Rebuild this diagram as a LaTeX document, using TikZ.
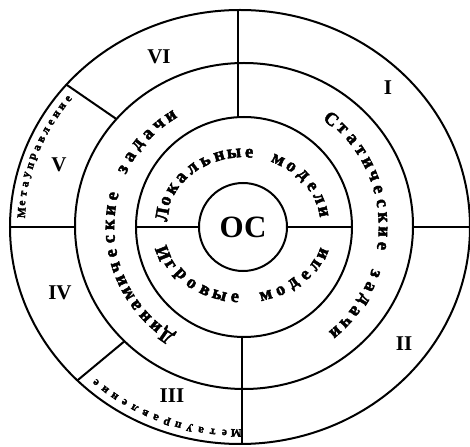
\documentclass[tikz,border=0pt]{standalone}
\usepackage{fontspec}
\setmainfont{Liberation Serif}
\newfontfamily\heavyfont[BoldFeatures={FakeBold=2.5}]{Liberation Serif}
\usepackage{tikz}
\usetikzlibrary{calc}
\tikzset{
  ring/.style={draw, line width=2pt},
  div/.style={line width=2pt},
  roman/.style={font=\fontsize{21}{21}\selectfont\bfseries, inner sep=1pt},
  core/.style={circle, draw, line width=2pt, minimum size=88pt, inner sep=0pt,
               font=\fontsize{31}{31}\selectfont\bfseries},
  letter/.style={inner sep=0pt, font=\heavyfont\fontsize{18.5}{18.5}\selectfont\bfseries},
  tinyletter/.style={inner sep=0pt, font=\heavyfont\fontsize{11.5}{11.5}\selectfont\bfseries},
}
% #1 style, #2 name, #3 centre, #4 first angle, #5 step, #6 turn, #7 radii, #8 letters
\newcommand\ringtext[8]{%
  \foreach \ch [count=\k] in {#8} {%
    \pgfmathsetmacro\ang{#4+#5*(\k-1)}%
    \node[#1, rotate=\ang#6] (#2-\k) at ($(#3)+(\ang:#7)$) {\ch};}}
\begin{document}
\begin{tikzpicture}[x=1pt, y=1pt]
    \useasboundingbox (-243,-219) rectangle (227,227);
    \coordinate (co) at (-3,0);
    \coordinate (cm) at (1,1);
    \coordinate (ci) at (1,0);
    \draw[ring] (co) ellipse [x radius=230, y radius=217];
    \draw[ring] (cm) ellipse [x radius=169, y radius=163];
    \draw[ring] (ci) ellipse [x radius=108, y radius=110];
    \node[core] (os) at (0,0) {ОС};
    \coordinate (outN) at (-5,217);
    \coordinate (inN) at (-5,109);
    \coordinate (outS) at (-1,-217);
    \coordinate (inS) at (-1,-110);
    \coordinate (outE) at (227,0);
    \coordinate (midE) at (170,0);
    \coordinate (outW) at (-233,0);
    \coordinate (midW) at (-168,0);
    \coordinate (inW) at (-107,0);
    \coordinate (inE) at (109,0);
    \coordinate (outNW) at ($(co)+(139:230 and 217)$);
    \coordinate (midNW) at ($(cm)+(139:169 and 163)$);
    \coordinate (outSW) at ($(co)+(225:230 and 217)$);
    \coordinate (midSW) at ($(cm)+(225:169 and 163)$);
    \draw[div] (outN) -- (inN);
    \draw[div] (inS) -- (outS);
    \draw[div] (midE) -- (outE);
    \draw[div] (outW) -- (midW);
    \draw[div] (inW) -- (os.west);
    \draw[div] (os.east) -- (inE);
    \draw[div] (outNW) -- (midNW);
    \draw[div] (outSW) -- (midSW);
    \node[roman] (sec1) at (145,139) {I};
    \node[roman] (sec2) at (161,-117) {II};
    \node[roman] (sec3) at (-71,-169) {III};
    \node[roman] (sec4) at (-183,-66) {IV};
    \node[roman] (sec5) at (-184,62) {V};
    \node[roman] (sec6) at (-84,170) {VI};
    \ringtext{letter}{lok}{0,0}{170}{-10.53}{-90}{82 and 74}
      {Л,о,к,а,л,ь,н,ы,е,{},м,о,д,е,л,и}
    \ringtext{letter}{igr}{0,0}{201.6}{10.49}{+90}{86 and 71}
      {И,г,р,о,в,ы,е,{},м,о,д,е,л,и}
    \ringtext{letter}{stat}{ci}{51}{-5.88}{-90}{139 and 139}
      {С,т,а,т,и,ч,е,с,к,и,е,{},з,а,д,а,ч,и}
    \ringtext{letter}{din}{ci}{235}{-6.22}{-90}{134 and 132}
      {Д,и,н,а,м,и,ч,е,с,к,и,е,{},з,а,д,а,ч,и}
    \ringtext{tinyletter}{metaV}{co}{176}{-2.65}{-90}{219 and 206}
      {М,е,т,а,у,п,р,а,в,л,е,н,и,е}
    \ringtext{tinyletter}{metaIII}{co}{269}{-3.08}{-90}{219 and 206}
      {М,е,т,а,у,п,р,а,в,л,е,н,и,е}
\end{tikzpicture}
\end{document}
